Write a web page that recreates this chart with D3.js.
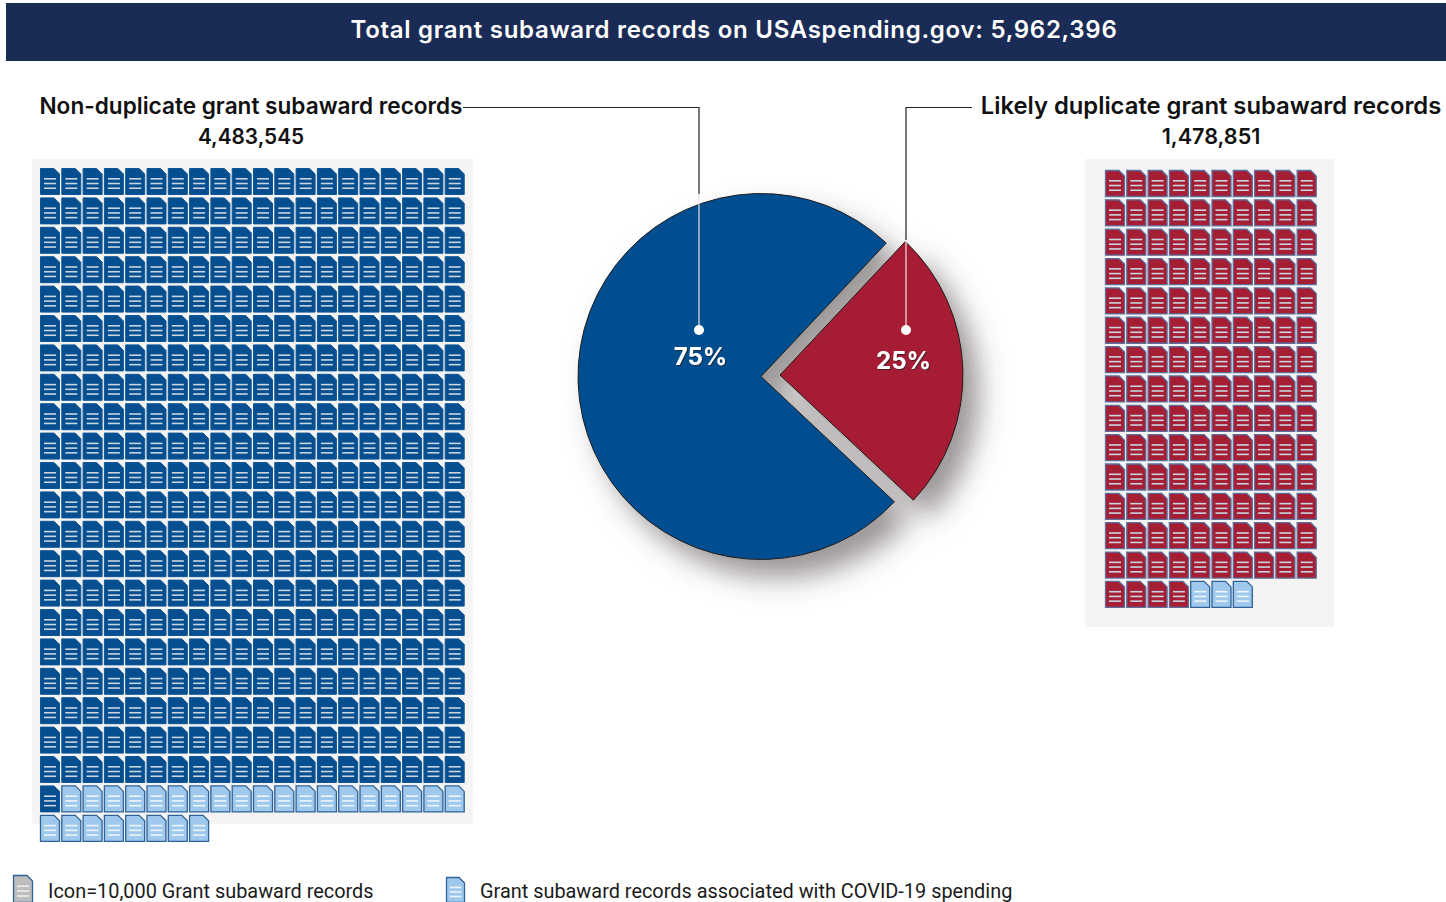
<!DOCTYPE html>
<html><head><meta charset="utf-8">
<script src="https://cdnjs.cloudflare.com/ajax/libs/d3/7.8.5/d3.min.js"></script>
<style>html,body{margin:0;padding:0;background:#fff;overflow:hidden}svg{display:block}text{font-family:Inter,"Open Sans",sans-serif}</style>
</head><body><div id="c"></div>
<script>
const titleText = "Total grant subaward records on USAspending.gov: 5,962,396";
const sliceNames = ["Non-duplicate grant subaward records","Likely duplicate grant subaward records"];
const sliceCounts = ["4,483,545","1,478,851"];
const slicePercents = [75,25];
const sliceLabels = ["75%","25%"];
const leftIconGroups = [421,27];
const rightIconGroups = [144,3];
const legendLabels = ["Icon=10,000 Grant subaward records","Grant subaward records associated with COVID-19 spending"];
const colBlue="#054e8f", colRed="#a61e34", colCovid="#9fc9ec", colLegendGrey="#bdbdbd", colEdge="#2e6299";

const W=1446,H=902;
const svg=d3.select("#c").append("svg").attr("width",W).attr("height",H).attr("viewBox",`0 0 ${W} ${H}`);
const defs=svg.append("defs");
const f=defs.append("filter").attr("id","ps").attr("x","-30%").attr("y","-30%").attr("width","170%").attr("height","170%");
f.append("feGaussianBlur").attr("in","SourceAlpha").attr("stdDeviation",14).attr("result","b");
f.append("feOffset").attr("in","b").attr("dx",16).attr("dy",18).attr("result","o");
f.append("feFlood").attr("flood-color","#4a4040").attr("flood-opacity",0.55).attr("result","c");
f.append("feComposite").attr("in","c").attr("in2","o").attr("operator","in").attr("result","s");
const m=f.append("feMerge");m.append("feMergeNode").attr("in","s");m.append("feMergeNode").attr("in","SourceGraphic");
const ts=defs.append("filter").attr("id","ts").attr("x","-20%").attr("y","-20%").attr("width","140%").attr("height","140%");
ts.append("feDropShadow").attr("dx",1).attr("dy",1).attr("stdDeviation",0.6).attr("flood-color","#222").attr("flood-opacity",0.75);

svg.append("rect").attr("x",6).attr("y",3).attr("width",1440).attr("height",58).attr("fill","#1a2b55");
svg.append("text").attr("x",734).attr("y",38).attr("text-anchor","middle").attr("fill","#fff")
  .attr("font-size",24).attr("font-weight",600).attr("letter-spacing",0.72).text(titleText);

// panels
svg.append("rect").attr("x",32).attr("y",159).attr("width",441).attr("height",665).attr("fill","#f4f4f4");
svg.append("rect").attr("x",1085).attr("y",159).attr("width",249).attr("height",468).attr("fill","#f4f4f4");

const iw=20,ih=27,cut=6;
function icon(g,fill,stroke,lineCol,w=iw,h=ih,sw=1){
  g.append("path").attr("d",`M0.5,0.5H${w-cut}L${w-0.5},${cut}V${h-0.5}H0.5Z`).attr("fill",fill).attr("stroke",stroke).attr("stroke-width",sw);
  [0.4,0.575,0.75].forEach(t=>g.append("line").attr("x1",w*0.2).attr("x2",w*0.8).attr("y1",h*t).attr("y2",h*t)
     .attr("stroke",lineCol).attr("stroke-width",1.6));
}
function waffle(groups,main,cols,x0,y0,pitchX,pitchY,extra,sw){
  const flat=[];
  groups.forEach((n,gi)=>d3.range(n).forEach(()=>flat.push(gi)));
  const total=flat.length;
  const x=d3.scaleLinear().domain([0,cols]).range([x0,x0+cols*pitchX]);
  const nRows=Math.ceil(total/cols);
  const y=d3.scaleLinear().domain([0,nRows]).range([y0,y0+nRows*pitchY]);
  flat.forEach((gi,i)=>{
    const g=svg.append("g").attr("transform",`translate(${x(i%cols)},${y(Math.floor(i/cols))})`);
    if(gi===0) icon(g,main,extra,"#c9d6e2",iw,ih,sw); else icon(g,colCovid,colEdge,"#eef5fb",iw,ih,1.3);
  });
}
waffle(leftIconGroups,colBlue,20,40,168,21.3,29.4,"#0d5594",1);
waffle(rightIconGroups,colRed,10,1105,170,21.3,29.35,"#5a6f9c",1.3);

// pie
const pie=d3.pie().sort(null).startAngle(133.2*Math.PI/180).endAngle((133.2+360)*Math.PI/180)(slicePercents);
const arc=d3.arc().innerRadius(0).outerRadius(183);
const pg=svg.append("g").attr("filter","url(#ps)");
const cx=[761,780], cy=[376.5,375];
pie.forEach((d,i)=>{
  pg.append("path").attr("transform",`translate(${cx[i]},${cy[i]})`).attr("d",arc(d))
    .attr("fill",i===0?colBlue:colRed).attr("stroke","#1c1c1c").attr("stroke-width",1);
});
// leaders
const leaders=[{a:463,b:699,pieTop:194},{a:972,b:906,pieTop:240}];
leaders.forEach(l=>{
  svg.append("path").attr("d",`M${l.a},107.5H${l.b}V${l.pieTop}`).attr("fill","none").attr("stroke","#222").attr("stroke-width",1.2);
  svg.append("line").attr("x1",l.b).attr("x2",l.b).attr("y1",l.pieTop).attr("y2",330).attr("stroke","#f2dfe2").attr("stroke-width",1.2);
  svg.append("circle").attr("cx",l.b).attr("cy",330).attr("r",5).attr("fill","#fff");
});
[[700.5,364.5],[903.5,368.5]].forEach((p,i)=>svg.append("text").attr("x",p[0]).attr("y",p[1]).attr("text-anchor","middle")
  .attr("fill","#fff").attr("font-size",24).attr("font-weight",700).attr("filter","url(#ts)").text(sliceLabels[i]));

// headings
[[251,sliceNames[0],sliceCounts[0],22.6,20.8],[1211,sliceNames[1],sliceCounts[1],23.8,21.6]].forEach(h=>{
  svg.append("text").attr("x",h[0]).attr("y",114).attr("text-anchor","middle").attr("fill","#111").attr("font-size",h[3]).attr("font-weight",600).text(h[1]);
  svg.append("text").attr("x",h[0]).attr("y",144).attr("text-anchor","middle").attr("fill","#111").attr("font-size",h[4]).attr("font-weight",600).text(h[2]);
});

// legend
const lg1=svg.append("g").attr("transform","translate(13,875)");icon(lg1,colLegendGrey,colEdge,"#eee",20,28,1.3);
const lg2=svg.append("g").attr("transform","translate(446,877)");icon(lg2,colCovid,colEdge,"#eef5fb",19,26,1.3);
[[48,legendLabels[0]],[480,legendLabels[1]]].forEach(l=>svg.append("text").attr("x",l[0]).attr("y",897.5).attr("fill","#1a1a1a")
  .attr("font-size",19.9).style("font-family","Roboto").text(l[1]));
</script></body></html>
